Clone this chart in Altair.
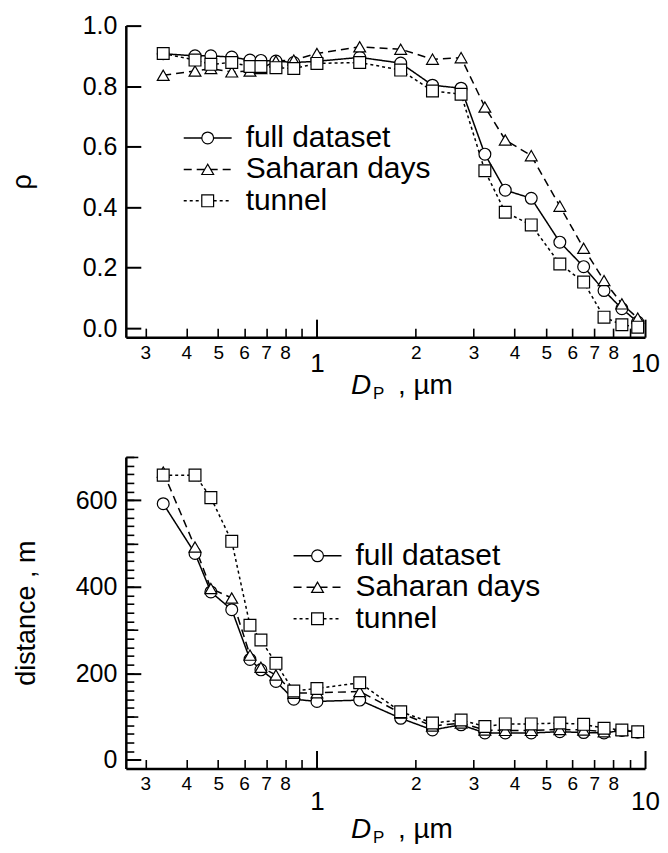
import altair as alt
import pandas as pd

# ---------------- data ----------------
D = [0.34, 0.425, 0.475, 0.55, 0.625, 0.675, 0.75, 0.85, 1.0, 1.35, 1.8,
     2.25, 2.75, 3.25, 3.75, 4.5, 5.5, 6.5, 7.5, 8.5, 9.5]
SERIES = ["full dataset", "Saharan days", "tunnel"]

rho_full = [0.907, 0.900, 0.900, 0.896, 0.886, 0.885, 0.883, 0.878, 0.882, 0.895, 0.876,
            0.803, 0.793, 0.575, 0.456, 0.429, 0.284, 0.203, 0.124, 0.064, 0.020]
rho_saharan = [0.836, 0.850, 0.858, 0.847, 0.850, 0.858, 0.883, 0.886, 0.908, 0.930, 0.922,
               0.889, 0.894, 0.731, 0.622, 0.570, 0.403, 0.264, 0.157, 0.080, 0.033]
rho_tunnel = [0.908, 0.886, 0.872, 0.878, 0.865, 0.865, 0.861, 0.858, 0.875, 0.878, 0.853,
              0.784, 0.773, 0.520, 0.383, 0.341, 0.212, 0.152, 0.036, 0.011, 0.003]

dist_full = [592, 477, 388, 347, 232, 208, 181, 140, 135, 138, 96,
             69, 81, 62, 62, 62, 65, 63, 62, 68, 64]
dist_saharan = [665, 492, 396, 374, 242, 214, 196, 154, 155, 158, 108,
                78, 85, 69, 68, 68, 70, 69, 65, 69, 64]
dist_tunnel = [658, 658, 606, 505, 311, 277, 223, 159, 165, 178, 111,
               85, 92, 77, 83, 83, 85, 82, 73, 69, 65]

X_MINOR_TICKS = [0.3, 0.4, 0.5, 0.6, 0.7, 0.8, 0.9, 2, 3, 4, 5, 6, 7, 8, 9]
X_MINOR_LABELS = [0.3, 0.4, 0.5, 0.6, 0.7, 0.8, 2, 3, 4, 5, 6, 7, 8]
X_MAJOR = [1, 10]
RHO_TICKS = [0.0, 0.2, 0.4, 0.6, 0.8, 1.0]
DIST_MAJOR = [0, 200, 400, 600]
DIST_MID = [100, 300, 500, 700]
DIST_MINOR = [0, 20, 40, 60, 80, 100, 120, 140, 160, 180, 200, 220, 240, 260, 280, 300,
              320, 340, 360, 380, 400, 420, 440, 460, 480, 500, 520, 540, 560, 580, 600,
              620, 640, 660, 680, 700]


def long_df(values):
    rows = []
    for name, ys in zip(SERIES, values):
        for d, v in zip(D, ys):
            rows.append({"D": d, "v": v, "series": name})
    return pd.DataFrame(rows)


df_rho = long_df([rho_full, rho_saharan, rho_tunnel])
df_dist = long_df([dist_full, dist_saharan, dist_tunnel])
df_legend = pd.DataFrame({"series": SERIES})

# ---------------- styling ----------------
FONT = "Liberation Sans"
W, H = 520, 312
XDOM = [0.2615, 10]
DASH_SCALE = alt.Scale(domain=SERIES, range=[[1, 0], [8, 5], [3, 3]])
SHAPE_SCALE = alt.Scale(domain=SERIES, range=["circle", "triangle-up", "square"])


def ax(**kw):
    base = dict(grid=False, labelFont=FONT, labelColor="black", titleFont=FONT,
                titleColor="black", titleFontWeight="normal", tickColor="black",
                domainColor="black", labelFlush=False, labelOverlap=False)
    base.update(kw)
    return alt.Axis(**base)


def make_panel(df, ydom, y_title, y_title_x, y_label_fmt, y_major, y_mid, y_minor,
               leg_cx, leg_rows, major_pad, title_base):
    xs = alt.Scale(type="log", domain=XDOM, nice=False)
    ys = alt.Scale(domain=ydom, nice=False, zero=False)

    def X(a):
        return alt.X("D:Q", scale=xs, axis=a)

    def Y(a):
        return alt.Y("v:Q", scale=ys, axis=a)

    # x axes: labels below, ticks pointing inward
    ax_x_labels = ax(orient="bottom", values=X_MINOR_LABELS, ticks=False, domain=True,
                     domainWidth=2.5,
                     labelExpr="datum.value < 1 ? round(datum.value * 10) : datum.value",
                     labelFontSize=19, labelPadding=6,
                     title="P", titleFontSize=17, titleX=247, titleY=title_base + 5,
                     titleAlign="left", titleBaseline="alphabetic")
    ax_x_minor = ax(orient="top", offset=-H, values=X_MINOR_TICKS, ticks=True, tickSize=9,
                    tickWidth=1.6, labels=False, domain=False,
                    title=", µm", titleFontSize=28, titleX=272, titleY=title_base,
                    titleAlign="left", titleBaseline="alphabetic")
    ax_x_major = ax(orient="top", offset=-H, values=X_MAJOR, ticks=True, tickSize=18,
                    tickWidth=2, labels=False, domain=False,
                    title="D", titleFontSize=28, titleFontStyle="italic", titleX=225,
                    titleY=title_base, titleAlign="left", titleBaseline="alphabetic")
    ax_x_major_lab = ax(orient="bottom", values=X_MAJOR, ticks=False, domain=False,
                        labelFontSize=26, labelPadding=major_pad, title=None)

    # y axes: labels left, ticks pointing inward
    ax_y_labels = ax(orient="left", values=y_major, ticks=False, domain=True, domainWidth=2.5,
                     format=y_label_fmt, labelFontSize=25, labelPadding=9,
                     title=y_title, titleFontSize=27, titleX=y_title_x, titleY=H / 2,
                     titleAngle=270, titleAlign="center", titleBaseline="middle")
    ax_y_major = ax(orient="right", offset=-W, values=y_major, ticks=True, tickSize=15,
                    tickWidth=2, labels=False, domain=False, title=None)
    ax_y_mid = None
    ax_y_minor = None
    if y_mid:
        ax_y_mid = ax(orient="right", offset=-W, values=y_mid, ticks=True, tickSize=12,
                      tickWidth=1.6, labels=False, domain=False, title=None)
    if y_minor:
        ax_y_minor = ax(orient="right", offset=-W, values=y_minor, ticks=True, tickSize=8,
                        tickWidth=1.6, labels=False, domain=False, title=None)

    base = alt.Chart(df)

    lines = base.mark_line(color="black", strokeWidth=1.5).encode(
        x=X(ax_x_labels),
        y=Y(ax_y_labels),
        strokeDash=alt.StrokeDash("series:N", scale=DASH_SCALE, legend=None),
    )
    points = base.mark_point(filled=True, fill="white", stroke="black", strokeWidth=1.2,
                             size=140, opacity=1).encode(
        x=X(ax_x_minor),
        y=Y(ax_y_major),
        shape=alt.Shape("series:N", scale=SHAPE_SCALE, legend=None),
    )
    ghost1 = base.mark_point(opacity=0, size=1).encode(x=X(ax_x_major), y=Y(ax_y_mid))
    ghost2 = base.mark_point(opacity=0, size=1).encode(x=X(ax_x_major_lab), y=Y(ax_y_minor))

    # in-plot legend (rows placed by a point scale over the series names)
    def LY():
        return alt.Y("series:N",
                     scale=alt.Scale(type="point", domain=SERIES, range=leg_rows, padding=0),
                     axis=None)

    lbase = alt.Chart(df_legend)
    leg_rule = lbase.mark_rule(color="black", strokeWidth=1.5).encode(
        x=alt.value(leg_cx - 24), x2=alt.value(leg_cx + 24), y=LY(),
        strokeDash=alt.StrokeDash("series:N", scale=DASH_SCALE, legend=None),
    )
    leg_pts = lbase.mark_point(filled=True, fill="white", stroke="black", strokeWidth=1.2,
                               size=140, opacity=1).encode(
        x=alt.value(leg_cx), y=LY(),
        shape=alt.Shape("series:N", scale=SHAPE_SCALE, legend=None),
    )
    leg_txt = lbase.mark_text(align="left", baseline="middle", font=FONT, fontSize=30,
                              color="black").encode(
        x=alt.value(leg_cx + 38), y=LY(), text="series:N",
    )

    return alt.layer(lines, points, ghost1, ghost2, leg_rule, leg_pts, leg_txt).resolve_axis(
        x="independent", y="independent").resolve_scale(y="independent").properties(
        width=W, height=H)


top = make_panel(df_rho, [-0.03, 1.0], "ρ", -103, ".1f", RHO_TICKS, None, None,
                 leg_cx=82, leg_rows=[112.5, 175.5], major_pad=13, title_base=56)
bottom = make_panel(df_dist, [-20, 700], "distance , m", -99, "d", DIST_MAJOR, DIST_MID,
                    DIST_MINOR, leg_cx=192, leg_rows=[99, 162], major_pad=20,
                    title_base=69)

chart = alt.vconcat(top, bottom, spacing=120, bounds="flush").resolve_scale(
    strokeDash="independent", shape="independent"
).properties(
    padding={"left": 0, "top": 4, "right": 0, "bottom": 0}
).configure_view(stroke="transparent")

chart.save("out.html", embed_options={"renderer": "svg", "actions": False})
